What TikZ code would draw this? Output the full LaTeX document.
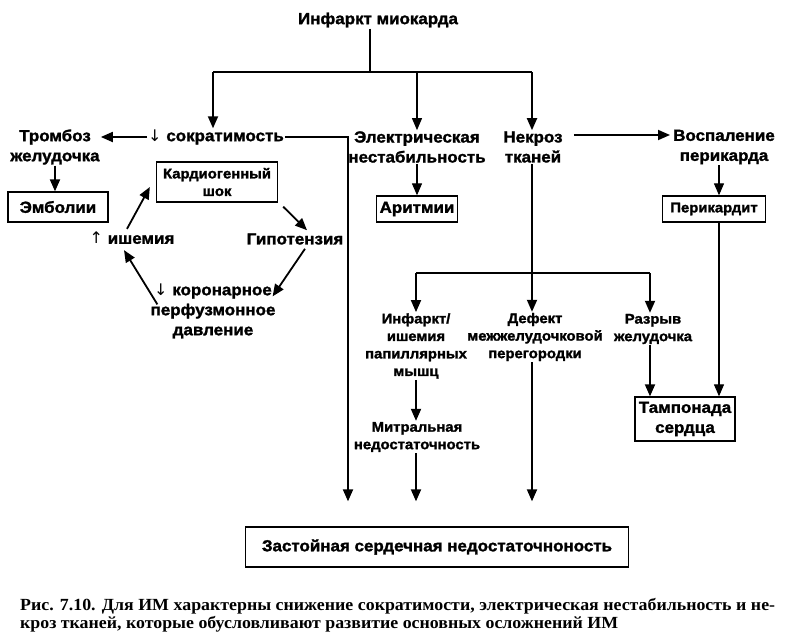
\documentclass[tikz,border=0pt]{standalone}
\usepackage{fontspec}
\setmainfont{Liberation Serif}[FakeStretch=1.05]
\newfontfamily\sansb[FakeStretch=1.06,FakeBold=1.6]{Liberation Sans}
\newfontfamily\symf{DejaVu Sans}
\usetikzlibrary{arrows.meta,calc}
\begin{document}
\begin{tikzpicture}[x=1pt,y=-1pt,
  lbl/.style={font=\sansb\bfseries\fontsize{16}{20}\selectfont, align=center, inner sep=1pt},
  lbs/.style={font=\sansb\bfseries\fontsize{14}{17.5}\selectfont, align=center, inner sep=1pt},
  boxn/.style={draw, line width=1.3pt, inner sep=0pt, align=center},
  arr/.style={line width=1.8pt, -{Triangle[length=12pt,width=10pt]}},
  tarr/.style={line width=1.1pt, -{Triangle[length=12pt,width=10pt]}},
  ln/.style={line width=1.8pt}]
\useasboundingbox (0,0) rectangle (796,643);
\fill[white] (0,0) rectangle (796,643);
% nodes
\node[lbl] (im) at (378,20) {Инфаркт миокарда};
\node[lbl] (sok) at (216,137) {{\symf\mdseries ↓} сократимость};
\node[lbl] (tromb) at (55,147) {Тромбоз\\желудочка};
\node[lbl,boxn,minimum width=100pt,minimum height=30pt] (emb) at (58,207) {Эмболии};
\node[lbs,boxn,minimum width=121pt,minimum height=40pt] (shock) at (217,182) {Кардиогенный\\шок};
\node[lbl] (hypo) at (295,239) {Гипотензия};
\node[lbl] (isch) at (132,238) {{\symf\mdseries ↑} ишемия};
\node[lbl] (coron) at (213,311) {{\symf\mdseries ↓} коронарное\\перфузмонное\\давление};
\node[lbl] (elec) at (417,147) {Электрическая\\нестабильность};
\node[lbl,boxn,minimum width=81pt,minimum height=26pt] (arit) at (417,209) {Аритмии};
\node[lbl] (nekr) at (533,147) {Некроз\\тканей};
\node[lbl] (vosp) at (724,147) {Воспаление\\перикарда};
\node[lbs,boxn,minimum width=103pt,minimum height=26pt] (perik) at (714,209) {Перикардит};
\node[lbs] (infp) at (416,346) {Инфаркт/\\ишемия\\папиллярных\\мышц};
\node[lbs] (defekt) at (535,337) {Дефект\\межжелудочковой\\перегородки};
\node[lbs] (razr) at (653,329) {Разрыв\\желудочка};
\node[lbs] (mitr) at (417,437) {Митральная\\недостаточность};
\node[lbl,boxn,minimum width=100pt,minimum height=44pt] (tamp) at (685,419) {Тампонада\\сердца};
\node[lbl,boxn,minimum width=383pt,minimum height=40pt] (chf) at (437,547) {Застойная сердечная недостаточноность};
\node[anchor=base west, inner sep=0pt, font=\bfseries\fontsize{17}{18}\selectfont] (cap1) at (20,610) {\makebox[755pt][s]{Рис. 7.10. Для ИМ характерны снижение сократимости, электрическая нестабильность и не-}};
\node[anchor=base west, inner sep=0pt, font=\bfseries\fontsize{17}{18}\selectfont] (cap2) at (20,628) {кроз тканей, которые обусловливают развитие основных осложнений ИМ};
% junctions
\coordinate (j0) at (370,72);
\coordinate (jL) at (213,72);
\coordinate (jE) at (417,72);
\coordinate (jR) at (532,72);
\coordinate (k) at (348,137);
\coordinate (jN) at (532,273);
\coordinate (jNL) at (416,273);
\coordinate (jNR) at (650,273);
\coordinate (jP) at (719,222);
% connectors
\draw[ln] (j0 |- im.south) -- (j0);
\draw[ln] (jL) -- (jR);
\draw[arr] (jL) -- (jL |- sok.north);
\draw[tarr] (jE) -- (jE |- elec.north);
\draw[arr] (jR) -- (jR |- nekr.north);
\draw[arr] (sok.west) -- (sok.west -| tromb.east);
\draw[arr,shorten >=25pt] (sok.east) -- (k) -- (k |- chf.north);
\draw[arr] (tromb.south) -- (tromb.south |- emb.north);
\draw[arr] ($(shock.south east)+(5,4)$) -- ($(hypo.north)+(12,-2)$);
\draw[arr] ($(hypo.south)+(10,3)$) -- ($(coron.north east)+(-4,14)$);
\draw[arr] ($(coron.north west)+(8,22)$) -- ($(isch.south)+(-8,5)$);
\draw[arr] ($(isch.north)+(-5,-2)$) -- ($(shock.west)+(-6,5)$);
\draw[tarr] (elec.south) -- (elec.south |- arit.north);
\draw[arr] ($(nekr.east)+(10,-12)$) -- ($(vosp.west)+(-2,-12)$);
\draw[tarr] (vosp.south -| jP) -- (jP |- perik.north);
\draw[tarr] (jP) -- (jP |- tamp.north);
\draw[ln] (jR |- nekr.south) -- (jN);
\draw[ln] (jNL) -- (jNR);
\draw[arr] (jN) -- (jN |- defekt.north);
\draw[arr] (jNL) -- (jNL |- infp.north);
\draw[arr] (jNR) -- (jNR |- razr.north);
\draw[arr] (jNR |- razr.south) -- (jNR |- tamp.north);
\draw[arr] (jNL |- infp.south) -- (jNL |- mitr.north);
\draw[arr,shorten >=25pt] (jNL |- mitr.south) -- (jNL |- chf.north);
\draw[arr,shorten >=25pt] (defekt.south -| jN) -- (jN |- chf.north);
\end{tikzpicture}
\end{document}
